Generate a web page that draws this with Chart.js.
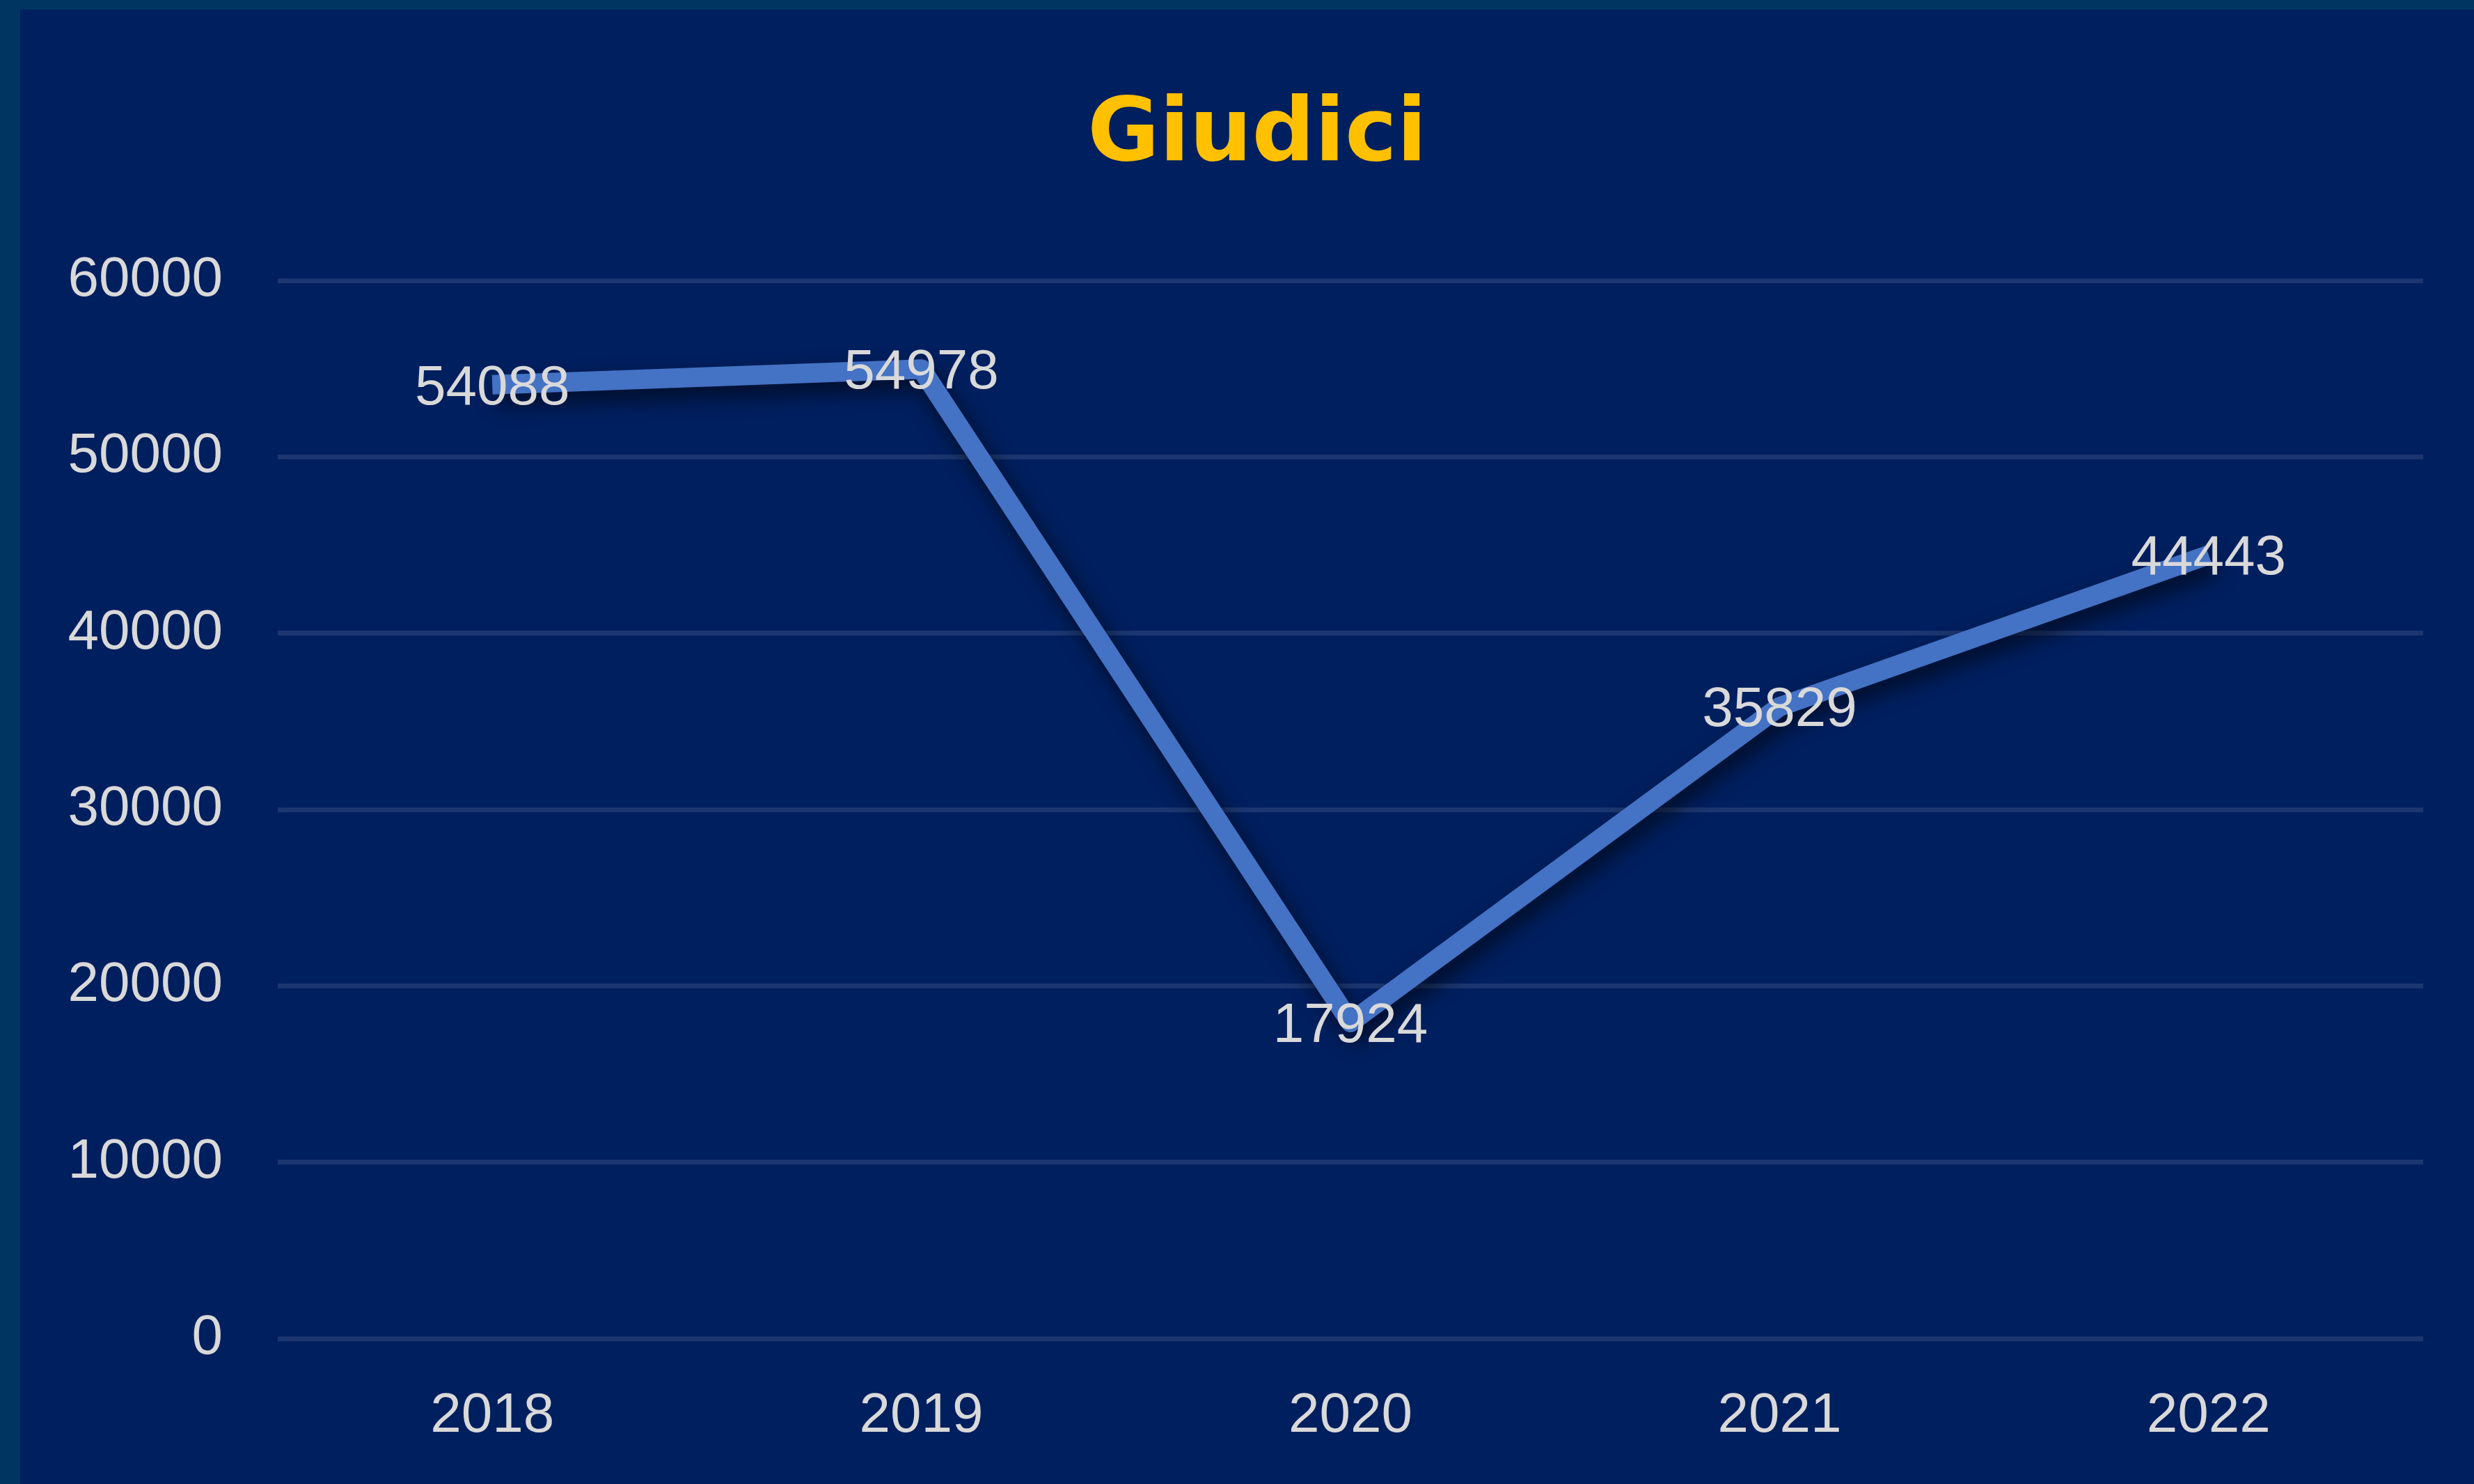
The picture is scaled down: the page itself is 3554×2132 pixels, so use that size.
<!DOCTYPE html>
<html>
<head>
<meta charset="utf-8">
<script src="https://cdn.jsdelivr.net/npm/chart.js@4.4.1/dist/chart.umd.min.js"></script>
<style>
  html, body { margin: 0; padding: 0; background: #003562; overflow: hidden; }
  #quadro {
    position: absolute; left: 29px; top: 14px;
    width: 3525px; height: 2118px; background: #001f5e;
  }
  #titolo {
    position: absolute; left: 1806px; top: 124px;
    transform: translateX(-50%);
    font: bold 126px/126px "DejaVu Sans", Verdana, sans-serif;
    letter-spacing: 0px;
    color: #ffc000;
    white-space: nowrap;
  }
</style>
</head>
<body>
<div id="quadro"><canvas id="grafico" width="3525" height="2118"></canvas></div>
<div id="titolo">Giudici</div>
<script>
// dados do grafico
const anni = ['2018', '2019', '2020', '2021', '2022'];
const giudici = [54088, 54978, 17924, 35829, 44443];
const tickY = [0, 10000, 20000, 30000, 40000, 50000, 60000];

const corTexto = '#d9d9d9';

// sombra da linha
const sombra = {
  id: 'sombra',
  beforeDatasetDraw(chart) {
    const ctx = chart.ctx;
    ctx.save();
    ctx.shadowColor = 'rgba(0, 0, 0, 0.6)';
    ctx.shadowBlur = 28;
    ctx.shadowOffsetX = 8;
    ctx.shadowOffsetY = 14;
  },
  afterDatasetDraw(chart) {
    chart.ctx.restore();
  }
};

// rotulos dos valores no centro dos pontos
const rotulos = {
  id: 'rotulos',
  afterDatasetsDraw(chart) {
    const ctx = chart.ctx;
    const meta = chart.getDatasetMeta(0);
    ctx.save();
    ctx.font = '80px "Liberation Sans", Arial, sans-serif';
    ctx.fillStyle = corTexto;
    ctx.textAlign = 'center';
    ctx.textBaseline = 'middle';
    meta.data.forEach((p, i) => {
      ctx.fillText(String(giudici[i]), p.x, p.y + 6);
    });
    ctx.restore();
  }
};

new Chart(document.getElementById('grafico'), {
  type: 'line',
  data: {
    labels: anni,
    datasets: [{
      label: 'Giudici',
      data: giudici,
      borderColor: '#4472c4',
      borderWidth: 28,
      borderCapStyle: 'butt',
      borderJoinStyle: 'round',
      pointRadius: 0,
      tension: 0,
      fill: false
    }]
  },
  options: {
    responsive: false,
    animation: false,
    layout: { padding: { left: 0, right: 73, top: 389, bottom: 0 } },
    plugins: {
      legend: { display: false },
      tooltip: { enabled: false },
      title: { display: false }
    },
    scales: {
      x: {
        offset: true,
        grid: { display: false, drawTicks: false },
        border: { display: false },
        ticks: {
          color: corTexto,
          padding: 64,
          font: { family: '"Liberation Sans", Arial, sans-serif', size: 80 }
        },
        afterFit(scale) { scale.height = 209; }
      },
      y: {
        min: 0,
        max: 60000,
        afterBuildTicks(scale) { scale.ticks = tickY.map(v => ({ value: v })); },
        grid: { color: '#1b3670', lineWidth: 7, drawTicks: false },
        border: { display: false },
        ticks: {
          color: corTexto,
          padding: 79,
          font: { family: '"Liberation Sans", Arial, sans-serif', size: 80 },
          callback: v => String(v)
        },
        afterFit(scale) { scale.width = 370; }
      }
    }
  },
  plugins: [sombra, rotulos]
});
</script>
</body>
</html>
